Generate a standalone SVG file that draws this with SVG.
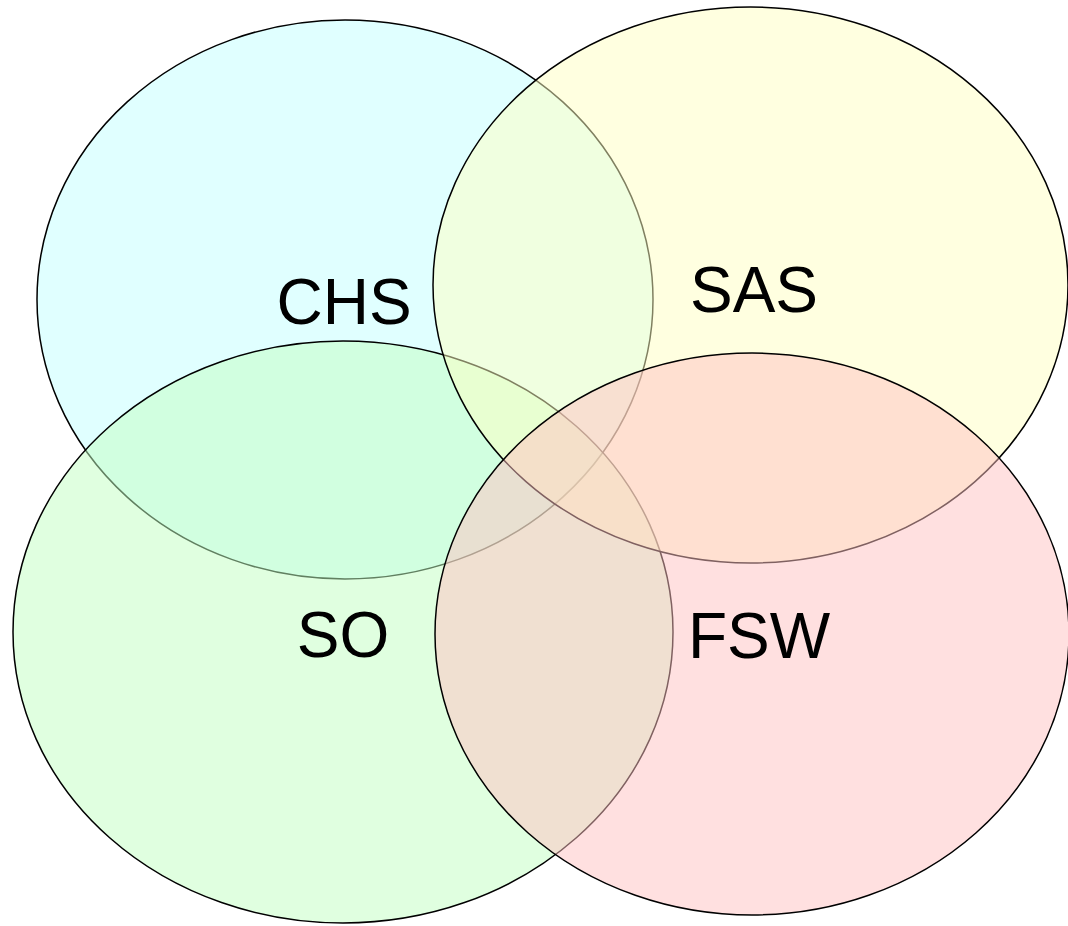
<svg xmlns="http://www.w3.org/2000/svg" width="1068" height="926" viewBox="0 0 1068 926">
<style>
.set{stroke:#000;stroke-width:1.5;fill-opacity:0.5}
.lbl{font-family:"Liberation Sans",Arial,sans-serif;font-size:64px;fill:#000;text-anchor:middle}
</style>
<rect width="1068" height="926" fill="#fff"/>
<g id="chs">
<ellipse class="set" cx="345" cy="299.5" rx="308" ry="279.5" fill="#c1ffff"/>
</g>
<g id="so">
<ellipse class="set" cx="343" cy="632" rx="330" ry="291" fill="#c1ffc1"/>
</g>
<g id="sas">
<ellipse class="set" cx="750.5" cy="285" rx="317.5" ry="278" fill="#ffffc1"/>
</g>
<g id="fsw">
<ellipse class="set" cx="752" cy="634" rx="317" ry="281" fill="#ffc1c1"/>
</g>
<g id="labels">
<text class="lbl" x="344" y="324">CHS</text>
<text class="lbl" x="754" y="312">SAS</text>
<text class="lbl" x="343" y="657">SO</text>
<text class="lbl" x="759" y="658">FSW</text>
</g>
<g id="connectors"/>
</svg>
